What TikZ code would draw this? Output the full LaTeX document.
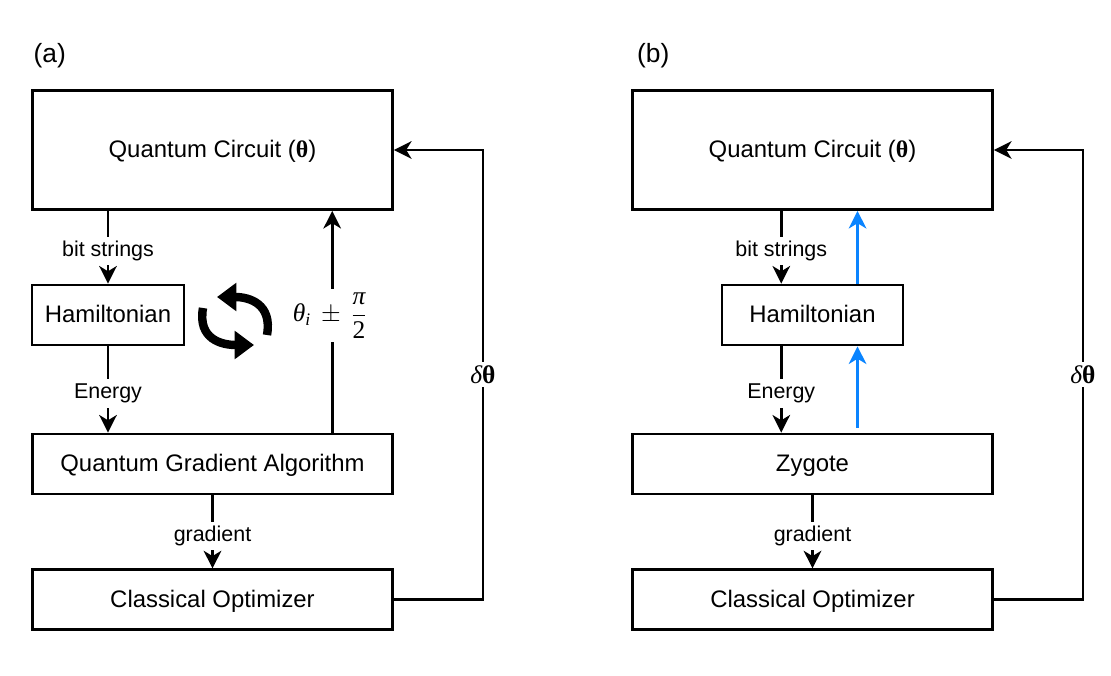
\documentclass[tikz,border=0pt]{standalone}
\usepackage{fontspec}
\setmainfont{Liberation Sans}
\newfontfamily\timesfont{Liberation Serif}
\usetikzlibrary{arrows.meta,positioning,calc}
\definecolor{ink}{HTML}{000000}
\definecolor{azure}{HTML}{0A84FF}
\newcommand{\boldth}{{\timesfont\bfseries θ}}
\newcommand{\thetai}{\mbox{\timesfont\itshape θ}_{\mbox{\fontsize{10}{12}\selectfont\timesfont\itshape i}}}
\newcommand{\piover}{\dfrac{\mbox{\timesfont\itshape π}}{\mbox{\timesfont 2}}}
\usepackage{amsmath}

\begin{document}
\begin{tikzpicture}[
  font=\fontsize{13.6}{16}\selectfont,
  block/.style={draw=ink,line width=1.6pt,fill=white,minimum height=1.2cm,
                inner sep=0pt,align=center,text height=12pt,text depth=3pt},
  wide/.style={block,minimum width=7.2cm},
  tall/.style={wide,minimum height=2.38cm},
  arr/.style={-{Stealth[length=10pt,width=10pt,inset=3pt]},line width=1.6pt,draw=ink},
  bluearr/.style={arr,draw=azure},
  tag/.style={fill=white,inner sep=0pt,minimum height=16pt,yshift=-0.08cm,
              font=\fontsize{12.2}{14}\selectfont},
  mathtag/.style={fill=white,inner sep=2pt,font=\fontsize{14.5}{17}\selectfont},
  panel/.style={anchor=base west,font=\fontsize{15}{18}\selectfont},
  cyc/.style={-{Triangle[length=11pt,width=15.5pt]},line width=4.8pt,draw=ink},
]
\useasboundingbox (0,0) rectangle (22.22,13.5);

% Panel (a)
\node[panel] (la) at (0.55,12.25) {(a)};
\node[tall] (qc) at (4.25,10.5) {Quantum Circuit (\boldth)};
\node[block,minimum width=3.04cm] (ham) at (2.16,7.2) {Hamiltonian};
\node[wide] (qga) at (4.25,4.22) {Quantum Gradient Algorithm};
\node[wide,below=1.46cm of qga] (co) {Classical Optimizer};

\coordinate (up) at ($(qga.north west)!0.83!(qga.north east)$);
\coordinate (loop) at ($(co.east)+(1.78,0)$);

\draw[arr] (ham |- qc.south) -- node[tag] {bit strings} (ham.north);
\draw[arr] (ham.south) -- node[tag] {Energy} (ham |- qga.north);
\draw[arr] (qga.south) -- node[tag] {gradient} (co.north);
\draw[arr] (up) -- node[mathtag,xshift=-0.04cm,yshift=0.12cm] {$\thetai\,\pm\,\piover$} (up |- qc.south);
\draw[arr] (co.east) -- (loop) |- node[mathtag,pos=0.25] {\mbox{\timesfont\itshape δ}\boldth} (qc.east);

% Rotation sign
\coordinate (spin) at (4.7,7.08);
\draw[cyc] ($(spin)+(0.64,-0.28)$) to[out=80,in=0,looseness=1.3] ($(spin)+(-0.36,0.48)$);
\draw[cyc] ($(spin)+(-0.64,0.26)$) to[out=260,in=180,looseness=1.3] ($(spin)+(0.38,-0.48)$);

% Panel (b)
\node[panel] (lb) at (12.62,12.25) {(b)};
\node[tall] (qcb) at (16.25,10.5) {Quantum Circuit (\boldth)};
\node[block,minimum width=3.62cm] (hamb) at (16.25,7.2) {Hamiltonian};
\node[wide] (zyg) at (16.25,4.22) {Zygote};
\node[wide,below=1.46cm of zyg] (cob) {Classical Optimizer};

\coordinate (dn) at ($(hamb.north west)!0.33!(hamb.north east)$);
\coordinate (dm) at ($(hamb.south west)!0.33!(hamb.south east)$);
\coordinate (bu) at ($(hamb.north west)!0.745!(hamb.north east)$);
\coordinate (bm) at ($(hamb.south west)!0.745!(hamb.south east)$);
\coordinate (loopb) at ($(cob.east)+(1.78,0)$);

\draw[arr] (dn |- qcb.south) -- node[tag] {bit strings} (dn);
\draw[arr] (dm) -- node[tag] {Energy} (dm |- zyg.north);
\draw[arr] (zyg.south) -- node[tag] {gradient} (cob.north);
\draw[bluearr] (bm |- zyg.north) ++(0,0.1) -- (bm);
\draw[bluearr] (bu) -- (bu |- qcb.south);
\draw[arr] (cob.east) -- (loopb) |- node[mathtag,pos=0.25] {\mbox{\timesfont\itshape δ}\boldth} (qcb.east);
\end{tikzpicture}
\end{document}
